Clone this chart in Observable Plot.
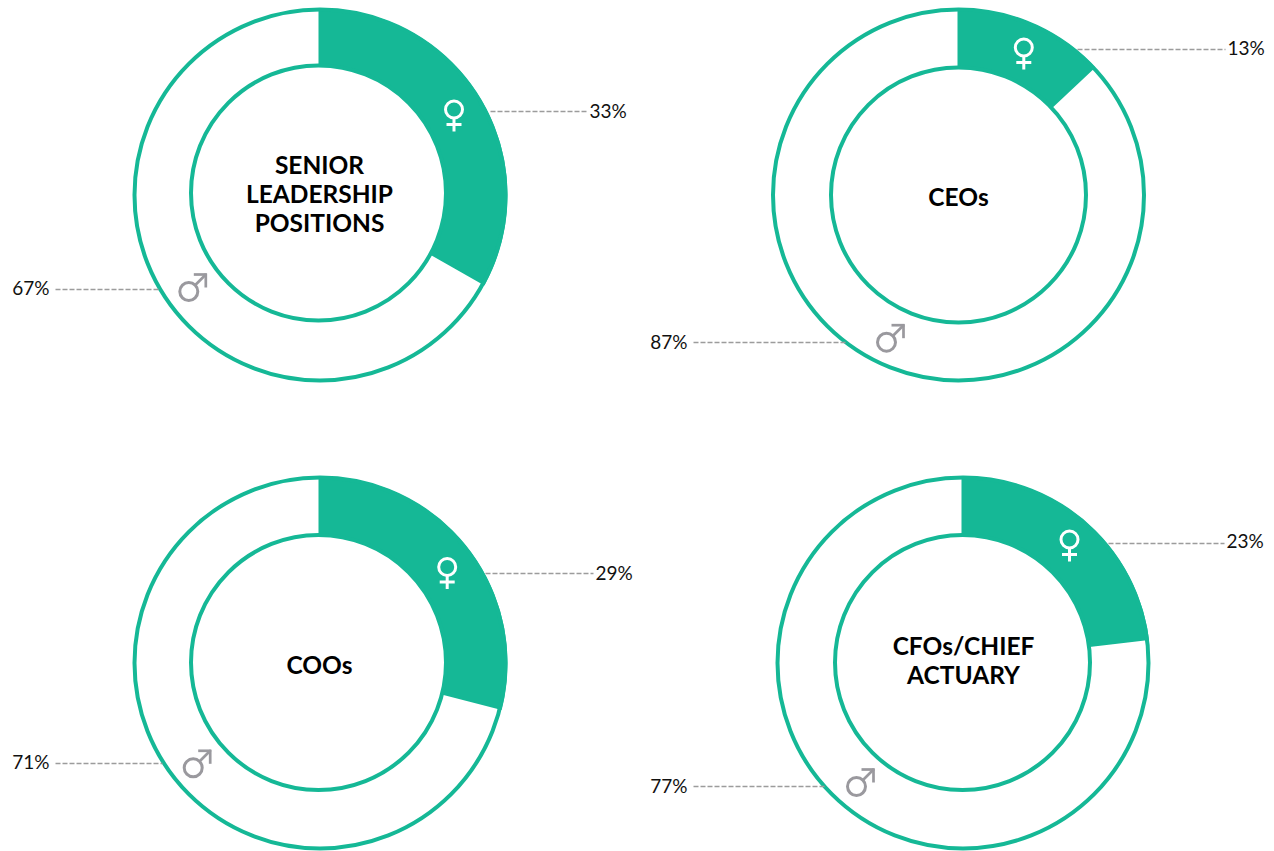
<!DOCTYPE html>
<html><head><meta charset="utf-8">
<style>html,body{margin:0;padding:0;background:#fff}svg{display:block}</style>
<script src="https://cdn.jsdelivr.net/npm/d3@7"></script>
<script src="https://cdn.jsdelivr.net/npm/@observablehq/plot@0.6"></script>
</head><body>
<script>
// values
const categories = ["SENIOR\nLEADERSHIP\nPOSITIONS", "CEOs", "COOs", "CFOs/CHIEF\nACTUARY"];
const women = [33, 13, 29, 23];
const men = [67, 87, 71, 77];

// layout (kept apart from the values)
const outerX = [319.5, 958, 319.5, 962.5];
const outerY = [194.5, 194.5, 662.5, 662.5];
const innerX = [318, 958, 318, 962];
const innerY = [192.5, 194.5, 662, 662];
const wedgeStart = [318, 957, 318, 961];
const titleX = [319, 958, 319, 963];
const titleY = [193, 196, 664.5, 660];
const femaleX = [453.5, 1023.3, 446.7, 1069];
const femaleY = [109, 47, 566.5, 539];
const femaleLeaderY = [111, 49, 573, 543];
const femaleLabelY = [111, 48, 573, 541.5];
const femaleLeaderStart = [490, 1077, 485, 1108];
const rightLabelStart = [589, 1227, 595, 1226];
const maleX = [188.3, 886, 192.7, 856];
const maleY = [291, 341.7, 767.3, 786];
const maleLeaderY = [289, 342, 763, 786];
const maleLabelY = [288.5, 342, 762.5, 786];
const maleLeaderEnd = [160, 845, 162, 825];
const leftLabelEnd = [49, 687, 49, 687];
const W = 1274, H = 851;
const outerR = 185.5, innerR = 127.5, edgeR = 187;
const green = "#15b896", gray = "#9a999e", ink = "#111";
const font = "Lato, sans-serif";

const polar = (cx, cy, pct, r) => {
  const a = pct / 100 * 2 * Math.PI;
  return {x: cx + r * Math.sin(a), y: cy - r * Math.cos(a)};
};
const idx = categories.map((c, i) => i);
const panels = idx.map(i => ({i, title: categories[i], ox: outerX[i], oy: outerY[i], ix: innerX[i], iy: innerY[i], tx: titleX[i], ty: titleY[i]}));

// wedge outlines follow the women's share
const wedges = women.flatMap((w, i) => {
  const pts = [{i, x: wedgeStart[i], y: outerY[i] + 0.5 - edgeR}];
  for (let k = 8; k <= 240; k++) pts.push({i, ...polar(outerX[i] + 0.5, outerY[i] + 0.5, w * k / 240, edgeR)});
  for (let k = 240; k >= 8; k--) pts.push({i, ...polar(innerX[i] + 0.5, innerY[i] + 0.5, w * k / 240, innerR)});
  pts.push({i, x: wedgeStart[i], y: innerY[i] + 0.5 - innerR});
  return pts;
});

const fem = idx.map(i => ({x: femaleX[i], y: femaleY[i]}));
const mal = idx.map(i => ({x: maleX[i], y: maleY[i]}));
const femLinks = fem.flatMap(d => [
  {x1: d.x, y1: d.y + 9, x2: d.x, y2: d.y + 22},
  {x1: d.x - 7.5, y1: d.y + 15, x2: d.x + 7.5, y2: d.y + 15}
]);
const malLinks = mal.flatMap(d => [
  {x1: d.x + 6, y1: d.y - 6, x2: d.x + 17, y2: d.y - 17},
  {x1: d.x + 5, y1: d.y - 17, x2: d.x + 18, y2: d.y - 17},
  {x1: d.x + 17, y1: d.y - 18, x2: d.x + 17, y2: d.y - 4}
]);
const femLeaders = idx.map(i => ({x1: femaleLeaderStart[i], x2: rightLabelStart[i] - 2, y: femaleLeaderY[i], ly: femaleLabelY[i], lx: rightLabelStart[i], label: women[i] + "%"}));
const malLeaders = idx.map(i => ({x1: leftLabelEnd[i] + 6, x2: maleLeaderEnd[i], y: maleLeaderY[i], ly: maleLabelY[i], lx: leftLabelEnd[i], label: men[i] + "%"}));

const chart = Plot.plot({
  width: W, height: H, margin: 0,
  x: {domain: [0, W], range: [0, W], axis: null},
  y: {domain: [0, H], range: [0, H], axis: null},
  marks: [
    Plot.line(wedges, {x: "x", y: "y", z: "i", fill: green, stroke: "none"}),
    Plot.dot(panels, {x: "ox", y: "oy", r: outerR, stroke: green, strokeWidth: 4, fill: "none"}),
    Plot.dot(panels, {x: "ix", y: "iy", r: innerR, stroke: green, strokeWidth: 4, fill: "none"}),
    Plot.dot(fem, {x: "x", y: "y", r: 8.5, stroke: "#fff", strokeWidth: 3, fill: "none"}),
    Plot.link(femLinks, {x1: "x1", y1: "y1", x2: "x2", y2: "y2", stroke: "#fff", strokeWidth: 3}),
    Plot.dot(mal, {x: "x", y: "y", r: 9, stroke: gray, strokeWidth: 3, fill: "none"}),
    Plot.link(malLinks, {x1: "x1", y1: "y1", x2: "x2", y2: "y2", stroke: gray, strokeWidth: 2.7}),
    Plot.link(femLeaders, {x1: "x1", x2: "x2", y1: "y", y2: "y", stroke: "#9c9c9c", strokeWidth: 1.3, strokeDasharray: "5,2"}),
    Plot.link(malLeaders, {x1: "x1", x2: "x2", y1: "y", y2: "y", stroke: "#9c9c9c", strokeWidth: 1.3, strokeDasharray: "5,2"}),
    Plot.text(panels, {x: "tx", y: "ty", text: "title", fontFamily: font, fontWeight: 700, fontSize: 24.5, lineHeight: 1.19, fill: "#000", textAnchor: "middle"}),
    Plot.text(femLeaders, {x: "lx", y: "ly", text: "label", fontFamily: font, fontSize: 19, fill: ink, textAnchor: "start"}),
    Plot.text(malLeaders, {x: "lx", y: "ly", text: "label", fontFamily: font, fontSize: 19, fill: ink, textAnchor: "end"})
  ]
});
document.body.appendChild(chart);
</script>
</body></html>
